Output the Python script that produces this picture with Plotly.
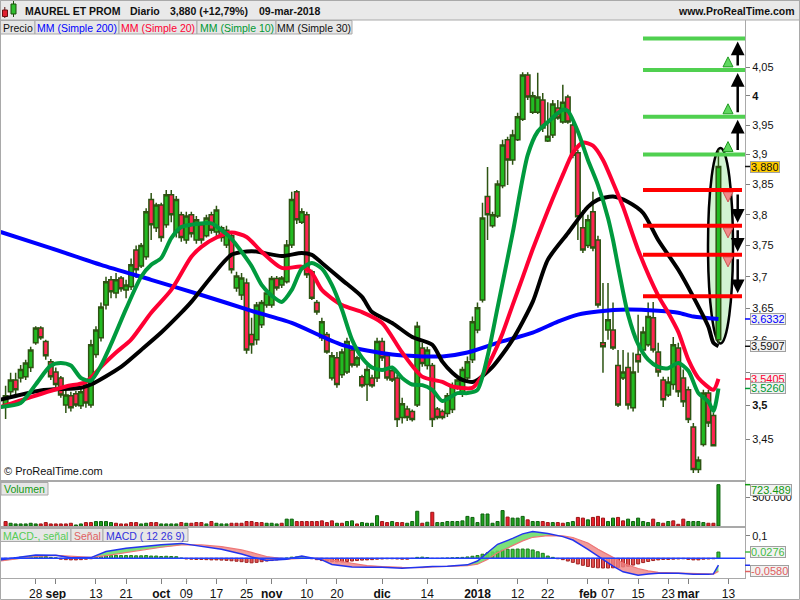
import math
import pandas as pd
import plotly.graph_objects as go
from plotly.subplots import make_subplots

# ---------------------------------------------------------------- data
first_day = "2017-08-18"
last_axis_day = "2018-03-16"
market_holidays = ["2017-12-25", "2017-12-26", "2018-01-01"]

opens = [
    3.501, 3.521, 3.539, 3.542, 3.544, 3.558, 3.596, 3.619, 3.598, 3.567,
    3.551, 3.542, 3.501, 3.515, 3.518, 3.500, 3.532, 3.501, 3.578, 3.604,
    3.655, 3.695, 3.674, 3.698, 3.679, 3.684, 3.743, 3.717, 3.732, 3.825,
    3.779, 3.816, 3.784, 3.833, 3.771, 3.800, 3.759, 3.800, 3.759, 3.784,
    3.766, 3.800, 3.772, 3.779, 3.751, 3.766, 3.682, 3.671, 3.690, 3.609,
    3.601, 3.624, 3.655, 3.655, 3.697, 3.687, 3.692, 3.751, 3.838, 3.788,
    3.800, 3.708, 3.659, 3.604, 3.609, 3.542, 3.573, 3.547, 3.551, 3.585,
    3.562, 3.544, 3.532, 3.542, 3.542, 3.598, 3.576, 3.553, 3.542, 3.482,
    3.495, 3.491, 3.501, 3.588, 3.561, 3.561, 3.495, 3.491, 3.488, 3.494,
    3.527, 3.519, 3.542, 3.570, 3.616, 3.663, 3.830, 3.782, 3.798, 3.848,
    3.925, 3.891, 3.925, 3.960, 4.036, 3.972, 3.972, 3.993, 3.923, 3.933,
    3.979, 3.955, 3.998, 3.950, 3.903, 3.779, 3.750, 3.805, 3.759, 3.596,
    3.616, 3.616, 3.561, 3.542, 3.558, 3.497, 3.578, 3.585, 3.593, 3.635,
    3.582, 3.539, 3.516, 3.532, 3.588, 3.542, 3.524, 3.468, 3.405, 3.442,
    3.519, 3.485, 3.601]
highs = [
    3.530, 3.550, 3.550, 3.562, 3.570, 3.590, 3.622, 3.622, 3.601, 3.571,
    3.558, 3.545, 3.527, 3.521, 3.522, 3.527, 3.536, 3.601, 3.622, 3.659,
    3.700, 3.701, 3.706, 3.701, 3.695, 3.729, 3.750, 3.754, 3.811, 3.836,
    3.820, 3.820, 3.841, 3.841, 3.831, 3.805, 3.805, 3.805, 3.798, 3.788,
    3.800, 3.805, 3.815, 3.782, 3.782, 3.772, 3.708, 3.706, 3.697, 3.635,
    3.660, 3.663, 3.681, 3.701, 3.701, 3.701, 3.759, 3.838, 3.841, 3.811,
    3.805, 3.711, 3.663, 3.635, 3.613, 3.582, 3.582, 3.587, 3.604, 3.591,
    3.576, 3.547, 3.561, 3.547, 3.604, 3.604, 3.582, 3.558, 3.547, 3.512,
    3.500, 3.494, 3.629, 3.596, 3.590, 3.565, 3.498, 3.494, 3.519, 3.535,
    3.544, 3.559, 3.575, 3.637, 3.659, 3.820, 3.879, 3.805, 3.857, 3.925,
    3.930, 3.942, 3.971, 4.041, 4.041, 4.007, 4.040, 4.005, 3.989, 3.993,
    3.993, 4.019, 4.002, 3.959, 3.908, 3.808, 3.800, 3.838, 3.766, 3.690,
    3.690, 3.659, 3.585, 3.585, 3.581, 3.581, 3.640, 3.621, 3.659, 3.660,
    3.596, 3.544, 3.544, 3.605, 3.596, 3.555, 3.529, 3.474, 3.424, 3.524,
    3.524, 3.489, 3.908]
lows = [
    3.480, 3.513, 3.516, 3.535, 3.539, 3.551, 3.593, 3.601, 3.570, 3.539,
    3.527, 3.512, 3.489, 3.491, 3.498, 3.495, 3.497, 3.497, 3.573, 3.598,
    3.648, 3.666, 3.666, 3.676, 3.666, 3.679, 3.698, 3.714, 3.727, 3.759,
    3.772, 3.756, 3.779, 3.788, 3.763, 3.756, 3.753, 3.763, 3.753, 3.753,
    3.763, 3.769, 3.763, 3.756, 3.746, 3.705, 3.676, 3.663, 3.579, 3.579,
    3.593, 3.619, 3.651, 3.651, 3.678, 3.682, 3.689, 3.746, 3.785, 3.785,
    3.698, 3.663, 3.640, 3.599, 3.579, 3.538, 3.527, 3.542, 3.548, 3.558,
    3.558, 3.527, 3.507, 3.527, 3.536, 3.568, 3.538, 3.536, 3.468, 3.473,
    3.477, 3.476, 3.498, 3.559, 3.555, 3.468, 3.479, 3.479, 3.483, 3.489,
    3.524, 3.513, 3.539, 3.565, 3.611, 3.659, 3.759, 3.779, 3.795, 3.844,
    3.849, 3.883, 3.923, 3.957, 3.993, 3.969, 3.969, 3.938, 3.921, 3.928,
    3.959, 3.952, 3.952, 3.894, 3.759, 3.738, 3.746, 3.741, 3.651, 3.550,
    3.601, 3.585, 3.498, 3.539, 3.494, 3.491, 3.550, 3.581, 3.590, 3.581,
    3.544, 3.498, 3.513, 3.524, 3.513, 3.498, 3.474, 3.400, 3.400, 3.439,
    3.468, 3.439, 3.596]
closes = [
    3.515, 3.539, 3.524, 3.555, 3.565, 3.585, 3.619, 3.604, 3.576, 3.544,
    3.532, 3.516, 3.516, 3.497, 3.501, 3.521, 3.504, 3.593, 3.616, 3.652,
    3.692, 3.676, 3.695, 3.681, 3.687, 3.719, 3.711, 3.750, 3.805, 3.784,
    3.816, 3.763, 3.833, 3.800, 3.825, 3.763, 3.798, 3.769, 3.792, 3.759,
    3.795, 3.775, 3.808, 3.763, 3.775, 3.711, 3.701, 3.698, 3.585, 3.593,
    3.655, 3.659, 3.674, 3.697, 3.682, 3.698, 3.751, 3.825, 3.792, 3.805,
    3.703, 3.666, 3.644, 3.629, 3.582, 3.576, 3.532, 3.582, 3.598, 3.562,
    3.573, 3.530, 3.555, 3.530, 3.598, 3.573, 3.542, 3.539, 3.479, 3.503,
    3.482, 3.479, 3.622, 3.564, 3.585, 3.479, 3.482, 3.482, 3.515, 3.530,
    3.539, 3.555, 3.567, 3.629, 3.651, 3.795, 3.800, 3.800, 3.851, 3.916,
    3.891, 3.933, 3.964, 4.036, 3.998, 4.000, 3.998, 3.945, 3.931, 3.986,
    3.962, 3.989, 3.955, 3.899, 3.797, 3.743, 3.792, 3.746, 3.655, 3.590,
    3.632, 3.588, 3.501, 3.551, 3.501, 3.551, 3.567, 3.613, 3.637, 3.585,
    3.551, 3.509, 3.536, 3.593, 3.521, 3.506, 3.479, 3.405, 3.419, 3.519,
    3.474, 3.440, 3.880]

volumes = [
    78000, 48000, 36000, 36000, 36000, 48000, 36000, 36000, 60000, 36000,
    36000, 36000, 36000, 48000, 18000, 36000, 60000, 60000, 78000, 78000,
    78000, 60000, 48000, 36000, 36000, 60000, 60000, 36000, 48000, 60000,
    60000, 36000, 36000, 36000, 36000, 60000, 48000, 48000, 60000, 60000,
    36000, 78000, 48000, 36000, 36000, 48000, 48000, 48000, 78000, 78000,
    60000, 60000, 48000, 48000, 36000, 48000, 120000, 120000, 78000, 78000,
    78000, 78000, 78000, 90000, 60000, 90000, 48000, 48000, 78000, 90000,
    36000, 60000, 48000, 48000, 180000, 78000, 60000, 78000, 60000, 60000,
    48000, 78000, 258000, 48000, 66000, 240000, 60000, 60000, 78000, 78000,
    78000, 90000, 168000, 150000, 60000, 210000, 210000, 48000, 78000, 270000,
    156000, 138000, 138000, 168000, 108000, 78000, 78000, 78000, 60000, 60000,
    60000, 48000, 60000, 78000, 150000, 138000, 108000, 150000, 168000, 138000,
    78000, 138000, 150000, 90000, 120000, 78000, 138000, 78000, 60000, 120000,
    60000, 48000, 78000, 90000, 30000, 120000, 78000, 78000, 78000, 60000,
    48000, 48000, 723489]
volume_dir = list(
    "rggggggrrr" "rrrrggrrgg" "ggrrrrrggr" "rggggrgrrr" "grgggrrrrr"
    "rrgggrggrr" "rrrrrrgrgg" "rggggrrgrr" "gggrgrgggg" "gggggggggg"
    "rgggrggrrg" "rrggrrgrrr" "ggrrgggggr" "grgrrrgggg" "rrg")

# moving averages (trading-day index, value)
ma200_idx = [-1, 9, 19, 29, 39, 49, 57, 67, 77, 87, 92, 98, 105, 110, 114, 118, 124, 130, 134, 137, 142]
ma200_val = [3.772, 3.746, 3.719, 3.695, 3.671, 3.646, 3.627, 3.593, 3.578, 3.575, 3.581, 3.596,
             3.612, 3.629, 3.640, 3.645, 3.648, 3.646, 3.643, 3.637, 3.6332]
ma30_idx = [-1, 7, 15, 17, 23, 27, 31, 35, 37, 41, 45, 49, 55, 59, 61, 63, 67, 71, 73, 77, 81, 85,
            87, 89, 91, 93, 94, 97, 101, 105, 108, 112, 116, 118, 121, 124, 127, 130, 134, 137, 140, 141, 142]
ma30_val = [3.509, 3.523, 3.527, 3.532, 3.559, 3.585, 3.612, 3.643, 3.660, 3.700, 3.735, 3.741, 3.733,
            3.738, 3.735, 3.722, 3.695, 3.668, 3.644, 3.627, 3.605, 3.593, 3.567, 3.550, 3.539, 3.536,
            3.539, 3.559, 3.601, 3.660, 3.727, 3.770, 3.813, 3.825, 3.830, 3.821, 3.803, 3.759, 3.711,
            3.668, 3.621, 3.596, 3.5907]
ma20_idx = [-1, 5, 12, 16, 19, 22, 25, 29, 33, 37, 39, 42, 45, 48, 51, 55, 59, 61, 63, 67, 71, 75, 79,
            83, 87, 89, 93, 95, 97, 99, 101, 103, 105, 107, 109, 111, 113, 115, 117, 119, 121, 123, 126,
            130, 132, 134, 136, 138, 141, 142]
ma20_val = [3.498, 3.513, 3.529, 3.536, 3.559, 3.581, 3.601, 3.643, 3.679, 3.732, 3.748, 3.763, 3.771,
            3.764, 3.740, 3.714, 3.716, 3.706, 3.679, 3.655, 3.644, 3.627, 3.581, 3.544, 3.536, 3.529,
            3.527, 3.546, 3.575, 3.611, 3.655, 3.699, 3.744, 3.786, 3.827, 3.866, 3.903, 3.920, 3.915,
            3.891, 3.853, 3.813, 3.743, 3.670, 3.643, 3.613, 3.570, 3.542, 3.524, 3.5405]
ma10_idx = [-1, 3, 6, 9, 11, 13, 15, 17, 19, 21, 24, 27, 29, 31, 33, 35, 37, 41, 43, 45, 47, 49, 51,
            53, 55, 57, 59, 61, 63, 65, 67, 69, 71, 73, 75, 77, 79, 81, 83, 85, 87, 90, 92, 94, 96, 98,
            101, 104, 106, 108, 111, 112, 114, 116, 118, 120, 121, 122, 124, 126, 128, 130, 132, 134,
            136, 138, 140, 141, 142]
ma10_val = [3.498, 3.504, 3.532, 3.561, 3.565, 3.561, 3.542, 3.538, 3.561, 3.594, 3.649, 3.700, 3.719,
            3.730, 3.762, 3.780, 3.784, 3.786, 3.775, 3.761, 3.740, 3.717, 3.687, 3.670, 3.660, 3.679,
            3.713, 3.722, 3.713, 3.687, 3.648, 3.601, 3.573, 3.558, 3.554, 3.558, 3.542, 3.532, 3.531,
            3.524, 3.507, 3.519, 3.519, 3.524, 3.575, 3.651, 3.770, 3.899, 3.939, 3.955, 3.976, 3.974,
            3.939, 3.891, 3.849, 3.795, 3.759, 3.717, 3.640, 3.594, 3.570, 3.559, 3.557, 3.565, 3.553,
            3.519, 3.506, 3.492, 3.526]

# MACD (12 26 9)
macd_idx = [-1, 3, 6, 10, 13, 17, 20, 24, 27, 31, 35, 39, 43, 47, 49, 52, 56, 59, 63, 65, 69, 72, 75,
            79, 83, 85, 88, 92, 94, 96, 98, 101, 103, 105, 108, 111, 113, 116, 118, 121, 123, 126, 128,
            130, 134, 137, 140, 141, 142]
macd_val = [-0.007, 0.004, 0.015, 0.013, 0.002, 0.003, 0.030, 0.044, 0.052, 0.060, 0.066, 0.053, 0.040,
            0.019, 0.006, -0.010, -0.004, 0.010, -0.007, -0.027, -0.038, -0.040, -0.040, -0.044, -0.037,
            -0.036, -0.035, -0.029, -0.012, 0.025, 0.062, 0.088, 0.108, 0.118, 0.110, 0.096, 0.081,
            0.040, 0.010, -0.035, -0.060, -0.075, -0.070, -0.066, -0.066, -0.071, -0.071, -0.069, -0.0304]
signal_val = [-0.012, -0.0015, 0.008, 0.013, 0.008, 0.004, 0.012, 0.025, 0.037, 0.049, 0.059, 0.059,
              0.052, 0.037, 0.026, 0.008, -0.004, 0.000, 0.000, -0.008, -0.022, -0.032, -0.037, -0.040,
              -0.041, -0.038, -0.036, -0.033, -0.026, -0.005, 0.025, 0.055, 0.077, 0.093, 0.100, 0.099,
              0.092, 0.068, 0.040, 0.004, -0.022, -0.045, -0.056, -0.062, -0.066, -0.068, -0.070,
              -0.070, -0.058]
hist_val = [
    -0.004, -0.002, 0.003, 0.005, 0.006, 0.008, 0.010, 0.010, 0.008, 0.004,
    0.002, -0.004, -0.006, -0.007, -0.007, -0.006, -0.004, -0.002, 0.004, 0.008,
    0.011, 0.013, 0.013, 0.012, 0.012, 0.012, 0.011, 0.011, 0.012, 0.010,
    0.010, 0.008, 0.009, 0.008, 0.007, 0.001, -0.003, -0.004, -0.005, -0.005,
    -0.006, -0.007, -0.007, -0.008, -0.009, -0.011, -0.013, -0.015, -0.018, -0.020,
    -0.018, -0.015, -0.012, -0.010, -0.007, -0.004, 0.001, 0.005, 0.006, 0.005,
    0.002, -0.002, -0.006, -0.010, -0.013, -0.015, -0.016, -0.016, -0.014, -0.012,
    -0.010, -0.008, -0.007, -0.006, -0.004, -0.003, -0.002, -0.002, -0.003, -0.004,
    -0.004, -0.001, 0.004, 0.005, 0.003, -0.001, -0.001, 0.000, 0.001, 0.002,
    0.003, 0.004, 0.006, 0.009, 0.012, 0.018, 0.024, 0.028, 0.032, 0.036,
    0.040, 0.040, 0.041, 0.041, 0.041, 0.037, 0.029, 0.022, 0.010, 0.004,
    -0.002, -0.006, -0.012, -0.018, -0.025, -0.031, -0.036, -0.040, -0.042, -0.043,
    -0.043, -0.042, -0.040, -0.038, -0.035, -0.030, -0.025, -0.019, -0.014, -0.010,
    -0.007, -0.005, -0.005, -0.004, -0.003, -0.002, -0.005, -0.007, -0.007, -0.004,
    -0.003, -0.002, 0.0276]

# drawing objects (user drawn levels)
green_levels = [3.900, 3.964, 4.045, 4.100]
red_levels = [3.841, 3.782, 3.735, 3.669]
ellipse_low, ellipse_high = 3.595, 3.911

# axis ticks (the 3,55 label is hidden behind the value boxes in the original)
price_ticks = [3.45, 3.50, 3.55, 3.60, 3.65, 3.70, 3.75, 3.80, 3.85, 3.90, 3.95, 4.00, 4.05]
price_tick_text = ["3,45", "<b>3,5</b>", "", "3,6", "3,65", "3,7", "3,75", "3,8", "3,85", "3,9",
                   "3,95", "<b>4</b>", "4,05"]
tick_dates = ["2017-08-28", "2017-09-01", "2017-09-13", "2017-09-21", "2017-10-02", "2017-10-09",
              "2017-10-17", "2017-10-25", "2017-11-01", "2017-11-10", "2017-11-20", "2017-12-01",
              "2017-12-14", "2018-01-02", "2018-01-12", "2018-01-22", "2018-02-01", "2018-02-07",
              "2018-02-15", "2018-02-23", "2018-03-01", "2018-03-13"]
tick_labels = ["28", "<b>sep</b>", "13", "21", "<b>oct</b>", "09", "17", "25", "<b>nov</b>", "10", "20",
               "<b>dic</b>", "14", "<b>2018</b>", "12", "22", "<b>feb</b>", "07", "15", "23", "<b>mar</b>", "13"]

# ---------------------------------------------------------------- geometry / style
W, H = 800, 600
ML, MR, MT, MB = 1, 55, 20, 22
PW, PH = W - ML - MR, H - MT - MB
PX0, PXSTEP = 5.6, 5.02          # pixel centre of first candle, pixels per trading day


def px2x(px):
    return (px - ML) / PW


def py2y(py):
    return (H - MB - py) / PH


def idx_at(px):
    return (px - PX0) / PXSTEP


XMIN, XMAX = idx_at(ML), idx_at(W - MR)
P_LO, P_HI = 3.3896, 4.1329
VOL_MAX = 770000
MACD_LO, MACD_HI = -0.0872, 0.1363
LOG_PER_PX = (math.log10(P_HI) - math.log10(P_LO)) / (480 - 20)

FRAME = "#a9a9a9"
EDGE = "#2d5412"
UP, DOWN = "#22bb22", "#ff2452"
BLUE, RED, GREEN, BLACK = "#0000ff", "#ff0033", "#009a3e", "#000000"
FONT = "Arial, Liberation Sans, sans-serif"

# ---------------------------------------------------------------- trading days
days = [d for d in pd.bdate_range(first_day, last_axis_day) if d.strftime("%Y-%m-%d") not in market_holidays]
day_str = [d.strftime("%Y-%m-%d") for d in days]
idx = list(range(len(closes)))
tick_idx = [day_str.index(d) for d in tick_dates]

fig = make_subplots(rows=3, cols=1, shared_xaxes=True, vertical_spacing=0.0)

# ---- price panel
fig.add_trace(go.Candlestick(
    x=idx, open=opens, high=highs, low=lows, close=closes,
    increasing=dict(line=dict(color=EDGE, width=1.5), fillcolor=UP),
    decreasing=dict(line=dict(color=EDGE, width=1.5), fillcolor=DOWN),
    whiskerwidth=0, showlegend=False, hoverinfo="skip"), row=1, col=1)

for xs, ys, col in [(ma200_idx, ma200_val, BLUE), (ma30_idx, ma30_val, BLACK),
                    (ma20_idx, ma20_val, RED), (ma10_idx, ma10_val, GREEN)]:
    fig.add_trace(go.Scatter(x=xs, y=ys, mode="lines", showlegend=False, hoverinfo="skip",
                             line=dict(color=col, width=4, shape="spline", smoothing=0.7)), row=1, col=1)

# small block arrows next to the level lines (marker anchored at its tip)
icon_x = idx_at(728)
up_icons_y = [p * 10 ** (13 * LOG_PER_PX) for p in green_levels[:-1]]
dn_icons_y = [p * 10 ** (-12 * LOG_PER_PX) for p in red_levels[:-1]]
fig.add_trace(go.Scatter(x=[icon_x] * len(up_icons_y), y=up_icons_y, mode="markers", showlegend=False,
                         hoverinfo="skip",
                         marker=dict(symbol="arrow-up", size=10, color="#5fd85f",
                                     line=dict(color="#1f9a1f", width=1))), row=1, col=1)
fig.add_trace(go.Scatter(x=[icon_x] * len(dn_icons_y), y=dn_icons_y, mode="markers", showlegend=False,
                         hoverinfo="skip",
                         marker=dict(symbol="arrow-down", size=10, color="#f08a8a",
                                     line=dict(color="#d05050", width=1))), row=1, col=1)

# ---- volume panel
vol_fill = ["#1e9e1e" if d == "g" else "#e8202c" for d in volume_dir]
vol_edge = ["#0d600d" if d == "g" else "#9a1414" for d in volume_dir]
fig.add_trace(go.Bar(x=idx, y=volumes, width=0.6, showlegend=False, hoverinfo="skip",
                     marker=dict(color=vol_fill, line=dict(color=vol_edge, width=1))), row=2, col=1)


# ---- MACD panel
def sign_segments(xs, a, b):
    segs = []
    cur = dict(x=[xs[0]], a=[a[0]], b=[b[0]], pos=(a[0] - b[0]) >= 0)
    for i in range(1, len(xs)):
        d0, d1 = a[i - 1] - b[i - 1], a[i] - b[i]
        if (d0 >= 0) != (d1 >= 0):
            t = d0 / (d0 - d1)
            xc = xs[i - 1] + t * (xs[i] - xs[i - 1])
            yc = a[i - 1] + t * (a[i] - a[i - 1])
            cur["x"].append(xc); cur["a"].append(yc); cur["b"].append(yc)
            segs.append(cur)
            cur = dict(x=[xc], a=[yc], b=[yc], pos=d1 >= 0)
        cur["x"].append(xs[i]); cur["a"].append(a[i]); cur["b"].append(b[i])
    segs.append(cur)
    return segs


for seg in sign_segments(macd_idx, macd_val, signal_val):
    fig.add_trace(go.Scatter(
        x=seg["x"] + seg["x"][::-1], y=seg["a"] + seg["b"][::-1], mode="lines", fill="toself",
        fillcolor="rgba(100,220,100,0.85)" if seg["pos"] else "rgba(238,130,130,0.8)",
        line=dict(width=0), showlegend=False, hoverinfo="skip"), row=3, col=1)

fig.add_trace(go.Scatter(x=macd_idx, y=signal_val, mode="lines", showlegend=False, hoverinfo="skip",
                         line=dict(color="#ee7777", width=1.2)), row=3, col=1)
fig.add_trace(go.Scatter(x=macd_idx, y=macd_val, mode="lines", showlegend=False, hoverinfo="skip",
                         line=dict(color="#2233ee", width=1.5)), row=3, col=1)
fig.add_trace(go.Bar(x=idx, y=hist_val, width=0.6, showlegend=False, hoverinfo="skip",
                     marker=dict(color=["#3cc43c" if v >= 0 else "#e25252" for v in hist_val],
                                 line=dict(color=["#1c7a1c" if v >= 0 else "#a02222" for v in hist_val],
                                           width=1))), row=3, col=1)

# ---------------------------------------------------------------- axes
fig.update_xaxes(range=[XMIN, XMAX], showgrid=False, zeroline=False, showline=True, linecolor=FRAME,
                 linewidth=1, mirror=True, rangeslider=dict(visible=False), fixedrange=True)
fig.update_xaxes(showticklabels=False, ticks="", row=1, col=1)
fig.update_xaxes(showticklabels=False, ticks="", row=2, col=1)
fig.update_xaxes(tickmode="array", tickvals=tick_idx, ticktext=tick_labels, ticks="outside", ticklen=5,
                 tickcolor="#808080", tickfont=dict(size=12, color="#111"), row=3, col=1)

ycommon = dict(side="right", showgrid=False, zeroline=False, showline=True, linecolor=FRAME, mirror=True,
               ticks="outside", ticklen=4, tickcolor="#808080", tickfont=dict(size=11, color="#111"),
               fixedrange=True)
fig.update_yaxes(**ycommon)
fig.update_layout(
    yaxis=dict(type="log", range=[math.log10(P_LO), math.log10(P_HI)], tickmode="array",
               tickvals=price_ticks, ticktext=price_tick_text, domain=[py2y(480), py2y(20)]),
    yaxis2=dict(range=[0, VOL_MAX], tickmode="array", tickvals=[500000], ticktext=["500.000"],
                domain=[py2y(526), py2y(482)]),
    yaxis3=dict(range=[MACD_LO, MACD_HI], tickmode="array", tickvals=[0.1], ticktext=["0,1"],
                domain=[py2y(578), py2y(527.5)]),
)

# ---------------------------------------------------------------- decorations
shapes = []
ann = []


def rect_px(x0, y0, x1, y1, fill, line=FRAME, lw=1):
    shapes.append(dict(type="rect", xref="paper", yref="paper", x0=px2x(x0), x1=px2x(x1),
                       y0=py2y(y1), y1=py2y(y0), fillcolor=fill, line=dict(color=line, width=lw),
                       layer="above"))


def text_px(px, py, text, size=11, color="#111", xanchor="left"):
    ann.append(dict(xref="paper", yref="paper", x=px2x(px), y=py2y(py), text=text, showarrow=False,
                    xanchor=xanchor, yanchor="middle", font=dict(size=size, color=color, family=FONT)))


def button(x0, x1, y0, y1, text, color, size=10.5):
    rect_px(x0, y0, x1, y1, "#e6e6e6")
    text_px((x0 + x1) / 2, (y0 + y1) / 2 + 0.5, text, size, color, "center")


# title bar
rect_px(0, 0, 799.5, 20, "#e9e9e9")
shapes.append(dict(type="line", xref="paper", yref="paper", x0=px2x(4.8), x1=px2x(4.8), y0=py2y(18),
                   y1=py2y(7), line=dict(color="#5a1010", width=1), layer="above"))
rect_px(2.5, 10, 7.5, 16.5, "#e02030", "#6a1010")
shapes.append(dict(type="line", xref="paper", yref="paper", x0=px2x(13.5), x1=px2x(13.5), y0=py2y(17),
                   y1=py2y(1), line=dict(color="#1a4d0a", width=1), layer="above"))
rect_px(11, 4, 16, 14, "#30c030", "#1a4d0a")
text_px(23, 11, "<b>MAUREL ET PROM</b>", 10.5)
text_px(128, 11, "<b>Diario</b>", 10.5)
text_px(168, 11, "<b>3,880 (+12,79%)</b>", 10.5)
text_px(257, 11, "<b>09-mar-2018</b>", 10.5)
text_px(797, 11, "<b>www.ProRealTime.com</b>", 10.5, xanchor="right")

# legend buttons
button(0, 35, 20.5, 34, "Precio", "#111")
button(35, 119, 20.5, 34, "MM (Simple 200)", BLUE)
button(119, 197, 20.5, 34, "MM (Simple 20)", RED)
button(197, 276, 20.5, 34, "MM (Simple 10)", "#009933")
button(276, 352, 20.5, 34, "MM (Simple 30)", "#111")
button(1, 48, 482.5, 495, "Volumen", "#119911")
button(0, 71, 528.5, 541.5, "MACD-, señal", "#55cc55")
button(71, 103, 528.5, 541.5, "Señal", "#e06060")
button(103, 188, 528.5, 541.5, "MACD ( 12 26 9)", "#3333dd")
text_px(2, 471, "© ProRealTime.com", 11)

# outer frame
shapes.append(dict(type="rect", xref="paper", yref="paper", x0=px2x(0.5), x1=px2x(799.5), y0=py2y(599.5),
                   y1=py2y(0.5), line=dict(color=FRAME, width=1), fillcolor="rgba(0,0,0,0)", layer="above"))

# level lines drawn on the chart
lvl_x0 = idx_at(643)
for p in green_levels:
    shapes.append(dict(type="line", xref="x", yref="y", x0=lvl_x0, x1=XMAX, y0=p, y1=p,
                       line=dict(color="#50d050", width=4), layer="above"))
for p in red_levels:
    shapes.append(dict(type="line", xref="x", yref="y", x0=lvl_x0, x1=idx_at(742), y0=p, y1=p,
                       line=dict(color="#ff0000", width=4), layer="above"))
# ellipse around the last candle
shapes.append(dict(type="circle", xref="x", yref="y", x0=idx_at(708), x1=idx_at(733),
                   y0=ellipse_low, y1=ellipse_high, fillcolor="#d2f3d2",
                   line=dict(color="black", width=2.5), layer="below"))
# black arrows between consecutive levels
arrow_x = idx_at(737.7)
for lv in (green_levels, red_levels):
    for a, b in zip(lv[:-1], lv[1:]):
        ann.append(dict(xref="x", yref="y", axref="x", ayref="y", x=arrow_x, y=math.log10(b),
                        ax=arrow_x, ay=math.log10(a), text="", showarrow=True, arrowhead=2,
                        arrowsize=1.1, arrowwidth=2.5, arrowcolor="black", standoff=3, startstandoff=3))

# MACD zero line
shapes.append(dict(type="line", xref="paper", yref="y3", x0=0, x1=1, y0=0, y1=0,
                   line=dict(color="#2040ff", width=1.5), layer="above"))


def value_box(yref, y_ann, y_shape, text, color, bg="#f2f2f2", yshift=0):
    ann.append(dict(xref="paper", yref=yref, x=1, y=y_ann, xanchor="left", xshift=5, yanchor="middle",
                    yshift=yshift, text=text, showarrow=False, font=dict(size=11, color=color, family=FONT),
                    bgcolor=bg, bordercolor="#a0a0a0", borderwidth=1, borderpad=0, height=10))
    shapes.append(dict(type="line", xref="paper", yref=yref, x0=1, x1=px2x(750), y0=y_shape, y1=y_shape,
                       line=dict(color=color, width=1.5), layer="above"))


for v, t, c, bg in [(closes[-1], "3,880", "#111", "#ffcc00"), (ma200_val[-1], "3,6332", BLUE, "#f2f2f2"),
                    (ma30_val[-1], "3,5907", "#111", "#f2f2f2"), (ma20_val[-1], "3,5405", RED, "#f2f2f2"),
                    (ma10_val[-1], "3,5260", "#009933", "#f2f2f2")]:
    value_box("y", math.log10(v), v, t, c, bg)
value_box("y2", volumes[-1], volumes[-1], "723.489", "#119911", yshift=-5)
value_box("y3", hist_val[-1], hist_val[-1], "0,0276", "#44bb44")
value_box("y3", signal_val[-1], signal_val[-1], "-0,0580", "#e06060")
shapes.append(dict(type="line", xref="paper", yref="y3", x0=1, x1=px2x(750), y0=macd_val[-1],
                   y1=macd_val[-1], line=dict(color="#2233ee", width=1.5), layer="above"))

fig.update_layout(
    width=W, height=H, margin=dict(l=ML, r=MR, t=MT, b=MB, autoexpand=False),
    paper_bgcolor="white", plot_bgcolor="white", showlegend=False, hovermode=False,
    font=dict(family=FONT, size=11, color="#111"), boxgap=0.05, boxgroupgap=0.05,
    shapes=shapes, annotations=ann, dragmode=False,
)

fig.write_html("out.html", config={"displayModeBar": False},
               post_script="document.body.style.margin='0px';document.body.style.overflow='hidden';")
